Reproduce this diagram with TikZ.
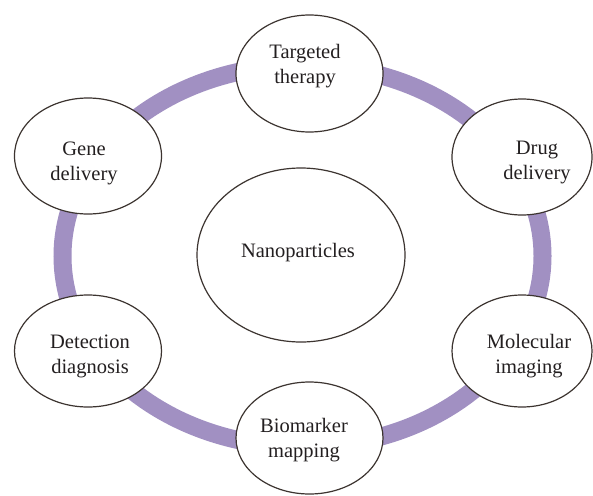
\documentclass[tikz,border=0pt]{standalone}
\usepackage{fontspec}
\setmainfont{Liberation Serif}
\usetikzlibrary{shapes.geometric}
\definecolor{ringc}{RGB}{161,144,194}
\definecolor{edgec}{RGB}{60,52,48}
\definecolor{txtc}{RGB}{35,31,32}
\begin{document}
\begin{tikzpicture}[x=1pt,y=-1pt,
  bub/.style={ellipse,draw=edgec,line width=1.2pt,fill=white,inner sep=0pt},
  lbl/.style={align=center,font=\fontsize{20.5}{25}\selectfont,text=txtc,inner sep=0pt}]
\useasboundingbox (0,0) rectangle (593,495);
\fill[white] (0,0) rectangle (593,495);
% ring
\draw[ringc,line width=18pt] (302.5,256) ellipse [x radius=240pt, y radius=191pt];
% bubbles
\node[bub,minimum width=147pt,minimum height=117pt] (T) at (309.5,73.5) {};
\node[bub,minimum width=140pt,minimum height=116pt] (D) at (522,157) {};
\node[bub,minimum width=140pt,minimum height=112pt] (M) at (522,351) {};
\node[bub,minimum width=147pt,minimum height=112pt] (B) at (309.5,438) {};
\node[bub,minimum width=147pt,minimum height=112pt] (E) at (88,351) {};
\node[bub,minimum width=147pt,minimum height=116pt] (G) at (88,156) {};
\node[bub,minimum width=208pt,minimum height=174pt] (N) at (301,255) {};
% texts
\node[lbl] (Tt) at (305,66) {Targeted\\therapy};
\node[lbl] (Dt) at (537,162) {Drug\\delivery};
\node[lbl] (Mt) at (529,356) {Molecular\\imaging};
\node[lbl] (Bt) at (304,440) {Biomarker\\mapping};
\node[lbl] (Et) at (90,356) {Detection\\diagnosis};
\node[lbl] (Gt) at (84,163) {Gene\\delivery};
\node[lbl] (Nt) at (298,253) {Nanoparticles};
\end{tikzpicture}
\end{document}
